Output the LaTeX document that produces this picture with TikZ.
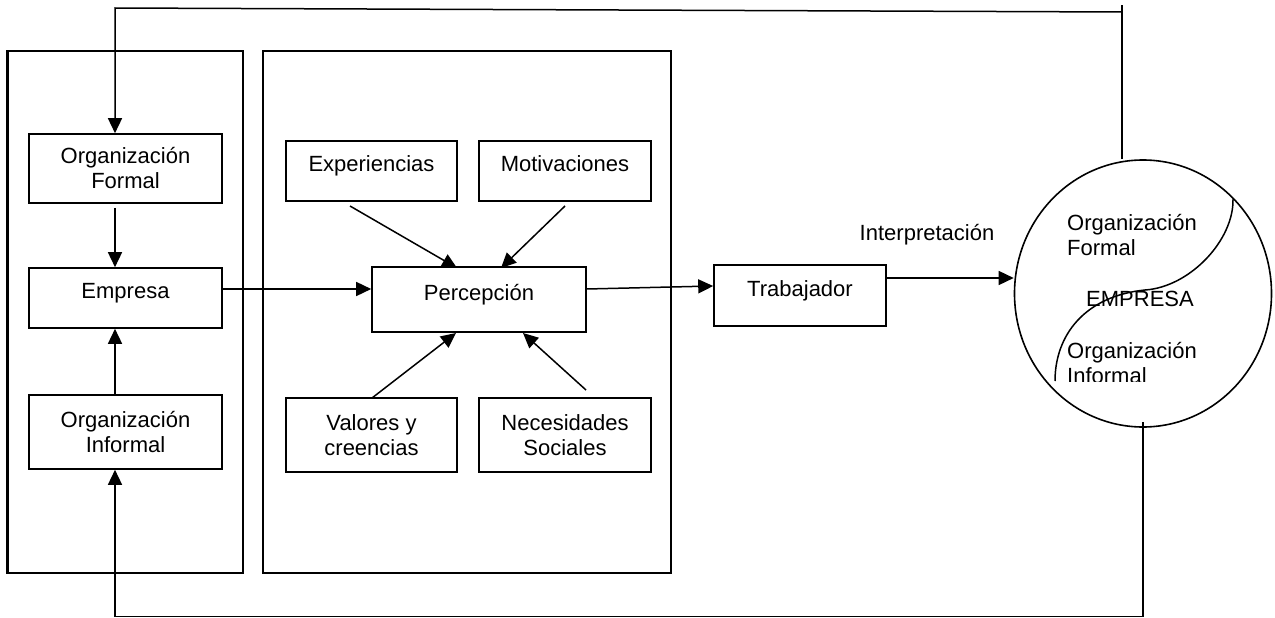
\documentclass[tikz,border=0pt]{standalone}
\usepackage{fontspec}
\setmainfont{Liberation Sans}
\usetikzlibrary{arrows.meta,shapes.geometric}
\begin{document}
\begin{tikzpicture}[x=1pt,y=-1pt,
  every node/.style={font=\fontsize{22}{25}\selectfont},
  box/.style={draw,line width=1.6pt,align=center,inner sep=0pt},
  one/.style={text height=15pt,text depth=14pt},
  arr/.style={line width=1.5pt,-{Triangle[length=15pt,width=14pt]}},
  ln/.style={line width=1.5pt}]
\useasboundingbox (0,0) rectangle (1275,618);
% frames
\node[box,minimum width=235pt,minimum height=522pt] (LB) at (125.5,312) {};
\draw[line width=3pt] (LB.north west) -- (LB.south west);
\node[box,minimum width=408pt,minimum height=522pt] (MB) at (467,312) {};
% left column
\node[box,minimum width=193pt,minimum height=69pt] (OF) at (125.5,168.5) {Organización\\Formal};
\node[box,one,minimum width=193pt,minimum height=60pt] (E) at (125.5,298) {Empresa};
\node[box,minimum width=193pt,minimum height=74pt] (OI) at (125.5,432) {Organización\\Informal};
% middle
\node[box,one,minimum width=171pt,minimum height=60pt] (Ex) at (371.5,171) {Experiencias};
\node[box,one,minimum width=172pt,minimum height=60pt] (Mo) at (565,171) {Motivaciones};
\node[box,one,minimum width=214pt,minimum height=65pt] (P) at (479,299.5) {Percepción};
\node[box,minimum width=171pt,minimum height=74pt] (Va) at (371.5,435) {Valores y\\creencias};
\node[box,minimum width=172pt,minimum height=74pt] (Ne) at (565,435) {Necesidades\\Sociales};
% right
\node[box,one,minimum width=172pt,minimum height=61pt] (T) at (800,295.5) {Trabajador};
\node[anchor=base] (I) at (927,240) {Interpretación};
\node[draw,ellipse,line width=1.6pt,inner sep=0pt,minimum width=257pt,minimum height=267pt] (C) at (1143,293.5) {};
\node[anchor=base west,align=left,inner sep=0pt] (CF) at (1067,255) {Organización\\Formal};
\node[anchor=base,inner sep=0pt] (CE) at (1140,306) {EMPRESA};
\begin{scope}
  \clip (1000,320) rectangle (1275,381);
  \node[anchor=base west,align=left,inner sep=0pt] (CI) at (1067,383) {Organización\\Informal};
\end{scope}
\draw[ln] (1233,199) .. controls (1234,240) and (1190,287) .. (1145,290)
          .. controls (1085,296) and (1055,335) .. (1055,381);
% coordinates
\coordinate (ax) at (115,0);
\coordinate (tr) at (1122,12);
\coordinate (tt) at (1122,5);
\coordinate (tl) at (115,8);
\coordinate (bt) at (1143,422);
\coordinate (br) at (1143,616.5);
\coordinate (bl) at (115,616.5);
\coordinate (ye) at (0,289);
\coordinate (yt) at (0,286);
\coordinate (yc) at (0,278);
\coordinate (e1) at (350,206); \coordinate (e2) at (457,268);
\coordinate (m1) at (565,206); \coordinate (m2) at (501,268);
\coordinate (v1) at (372,398); \coordinate (v2) at (456,333);
\coordinate (n1) at (586,390); \coordinate (n2) at (523,333);
% connectors
\draw[arr,shorten <=4pt] (OF.south -| ax) -- (E.north -| ax);
\draw[arr] (OI.north -| ax) -- (E.south -| ax);
\draw[arr] (E.east |- ye) -- (P.west |- ye);
\draw[arr] (P.east |- ye) -- (T.west |- yt);
\draw[arr] (T.east |- yc) -- (C.west |- yc);
\draw[arr] (e1) -- (e2);
\draw[arr] (m1) -- (m2);
\draw[arr] (v1) -- (v2);
\draw[arr] (n1) -- (n2);
% feedback loops
\draw[ln] (C.north -| tr) -- (tt);
\draw[arr] (tr) -- (tl) -- (OF.north -| tl);
\draw[ln] (bt) -- (br);
\draw[arr] (br) -- (bl) -- (OI.south -| bl);
\end{tikzpicture}
\end{document}
